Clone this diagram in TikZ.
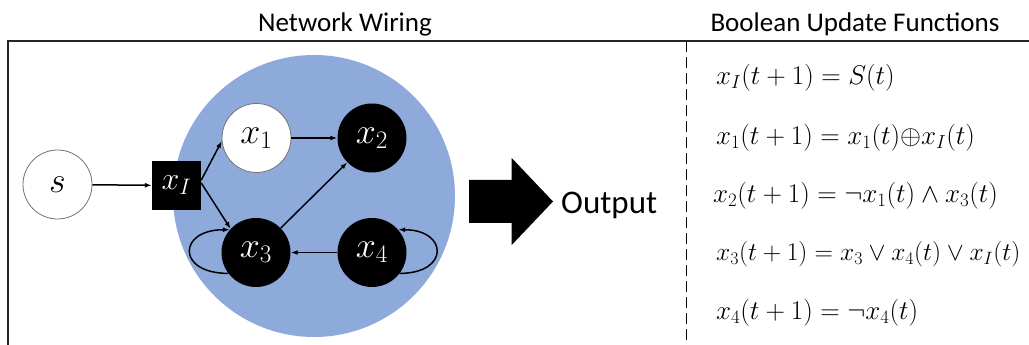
\documentclass[tikz,border=0pt]{standalone}
\usepackage{fix-cm}
\usepackage{fontspec}
\setsansfont{Carlito}
\usetikzlibrary{arrows.meta,calc}
\definecolor{netblue}{HTML}{8EAADB}
\tikzset{
  edge/.style={line width=1.5pt,-{Latex[length=7pt,width=5pt]}},
  onnode/.style={circle,minimum size=69pt,inner sep=0pt,fill=black,text=white,font=\fontsize{36}{40}\selectfont},
  offnode/.style={circle,minimum size=69pt,inner sep=0pt,fill=white,draw=black!55,line width=0.8pt,font=\fontsize{36}{40}\selectfont},
  inputbox/.style={rectangle,minimum size=49pt,inner sep=0pt,fill=black,text=white,font=\fontsize{32}{36}\selectfont},
  heading/.style={anchor=base,font=\sffamily\fontsize{27}{30}\selectfont},
  eqn/.style={anchor=west,inner sep=0pt,font=\fontsize{27}{30}\selectfont},
  frameline/.style={line width=1.6pt,draw=black!85}
}
\begin{document}
\begin{tikzpicture}[x=1pt,y=1pt]
\useasboundingbox (0,0) rectangle (1029,345);

% headings and frame
\node[heading] (hwire) at (345,313) {Network Wiring};
\node[heading] (hfun) at (855,313) {Boolean Update Functions};
\draw[frameline] (8,0) -- (8,304) -- (1029,304);
\draw[line width=1.3pt,dash pattern=on 11pt off 5pt] (686.5,304) -- (686.5,0);

% network region
\fill[netblue] (314,149) circle (141);

\node[offnode] (s) at (57.5,160.5) {$s$};
\node[inputbox] (xI) at (176.5,159.5) {$x_I$};
\node[offnode] (x1) at (256.5,207) {$x_1$};
\node[onnode] (x2) at (372,207) {$x_2$};
\node[onnode] (x3) at (256,92.5) {$x_3$};
\node[onnode] (x4) at (372,92.5) {$x_4$};

\draw[edge] (s) -- (xI);
\draw[edge] (xI.12) -- (x1.185);
\draw[edge] (xI.6) -- (x3.137);
\draw[edge] (x1) -- (x2);
\draw[edge] (x3) -- (x2);
\draw[edge] (x4) -- (x3);
\draw[edge] (x3.217) .. controls +(-52,0) and +(-52,0) .. (x3.139);
\draw[edge] (x4.-37) .. controls +(50,0) and +(50,0) .. (x4.41);

% output arrow
\fill (469,122) -- (469,165) -- (511.7,165) -- (511.7,187) -- (553,143.5)
      -- (511.7,100) -- (511.7,122) -- cycle;
\node[anchor=base west,inner sep=0pt,font=\sffamily\fontsize{33}{36}\selectfont] (out) at (561,131) {Output};

% update rules
\node[eqn] (f0) at (716,267) {$x_I(t+1) = S(t)$};
\node[eqn] (f1) at (716,207.5) {$x_1(t+1) = x_1(t){\oplus}x_I(t)$};
\node[eqn] (f2) at (713,149) {$x_2(t+1) = \neg x_1(t) \wedge x_3(t)$};
\node[eqn,font=\fontsize{25.5}{28}\selectfont] (f3) at (716,91) {$x_3(t+1) = x_3 \vee x_4(t) \vee x_I(t)$};
\node[eqn] (f4) at (716,32.5) {$x_4(t+1) = \neg x_4(t)$};
\end{tikzpicture}
\end{document}
